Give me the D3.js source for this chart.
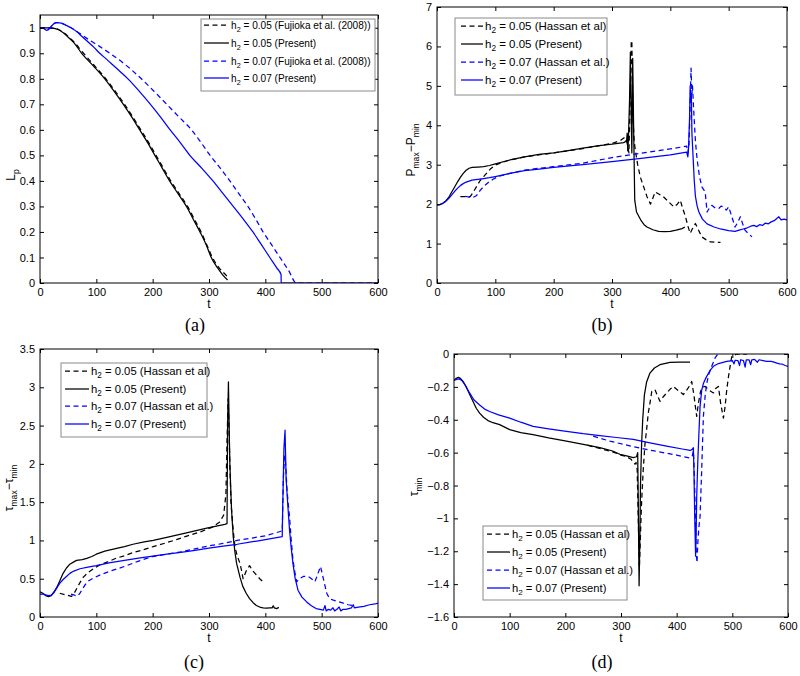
<!DOCTYPE html>
<html><head><meta charset="utf-8">
<script src="https://cdn.jsdelivr.net/npm/d3@7"></script>
<style>body{margin:0;background:#fff}svg{display:block}</style>
</head><body><svg id="chart" width="800" height="676"></svg>
<script>
// ---------- tick labels ----------
const tTicks = [0, 100, 200, 300, 400, 500, 600];
const aTicks = [0, 0.1, 0.2, 0.3, 0.4, 0.5, 0.6, 0.7, 0.8, 0.9, 1];
const bTicks = [0, 1, 2, 3, 4, 5, 6, 7];
const cTicks = [0, 0.5, 1, 1.5, 2, 2.5, 3, 3.5];
const dTicks = [0, -0.2, -0.4, -0.6, -0.8, -1, -1.2, -1.4, -1.6];

// ---------- legend labels (after "h" + subscript "2") ----------
const legendA = [" = 0.05 (Fujioka et al. (2008))", " = 0.05 (Present)", " = 0.07 (Fujioka et al. (2008))", " = 0.07 (Present)"];
const legendH = [" = 0.05 (Hassan et al)", " = 0.05 (Present)", " = 0.07 (Hassan et al.)", " = 0.07 (Present)"];

// ---------- (a) L_p ----------
const aBlackRef = [[0,1],[15,1],[25,0.998],[32,0.994],[40,0.984],[50,0.966],[60,0.945],[75,0.906],[96,0.853],[117,0.8],[134,0.75],[150,0.7],[165,0.65],[179,0.6],[193,0.55],[206,0.5],[219,0.45],[232,0.4],[247,0.35],[262,0.3],[274,0.25],[286,0.2],[296,0.15],[306,0.1],[317,0.062],[327,0.038],[334,0.022]];
const aBlackPresent = [[0,1],[15,1],[25,0.998],[32,0.993],[40,0.982],[50,0.963],[60,0.942],[74,0.9],[95,0.85],[115,0.8],[132,0.75],[148,0.7],[163,0.65],[177,0.6],[191,0.55],[204,0.5],[217,0.45],[230,0.4],[245,0.35],[260,0.3],[272,0.25],[284,0.2],[295,0.15],[304,0.1],[315,0.06],[325,0.03],[333,0.012]];
const aBlueRef = [[0,1],[6,0.998],[12,0.99],[18,1.0],[24,1.015],[30,1.02],[38,1.018],[46,1.01],[55,1.0],[65,0.986],[75,0.971],[89,0.95],[105,0.928],[124,0.9],[150,0.858],[165,0.83],[180,0.8],[203,0.75],[225,0.7],[247,0.65],[269,0.6],[286,0.55],[302,0.5],[320,0.45],[337,0.4],[353,0.35],[369,0.3],[383,0.25],[396,0.2],[411,0.15],[426,0.1],[441,0.05],[455,0],[600,0]];
const aBluePresent = [[0,1],[6,0.998],[12,0.99],[18,1.0],[24,1.015],[30,1.02],[38,1.018],[46,1.01],[55,1.0],[65,0.985],[75,0.965],[85,0.945],[95,0.925],[106,0.9],[118,0.877],[130,0.853],[143,0.827],[157,0.798],[176,0.752],[195,0.703],[213,0.653],[231,0.6],[249,0.55],[266,0.5],[287,0.45],[307,0.4],[325,0.35],[343,0.3],[361,0.25],[378,0.2],[393,0.15],[408,0.1],[420,0.06],[428,0.032],[428.05,0],[600,0]];

// ---------- (b) P_max - P_min ----------
const bBlackRef = [[40,2.19],[57,2.19],[62,2.3],[68,2.45],[74,2.6],[80,2.7],[86,2.8],[92,2.9],[100,2.99],[120,3.1],[150,3.2],[200,3.3],[250,3.41],[300,3.54],[315,3.62],[322,3.7],[326,3.55],[329,3.3],[331,4.5],[333,6.1],[334,6.15],[335,5.2],[336,4.2],[338,3.6],[340,3.37],[344,3.0],[348.5,2.69],[354,2.45],[360,2.19],[366,2.0],[370,2.15],[374,2.31],[381,2.25],[388,2.19],[397,2.06],[406,1.93],[412,2.0],[417,2.1],[421,1.9],[426,1.68],[430,1.45],[434,1.26],[438,1.38],[443,1.51],[448,1.35],[454,1.17],[461,1.1],[469,1.04],[486,1.03]];
const bBlackPresent = [[0,1.98],[5,1.99],[10,2.02],[15,2.08],[20,2.17],[25,2.3],[30,2.43],[35,2.56],[40,2.68],[45,2.78],[50,2.86],[55,2.91],[60,2.93],[70,2.94],[80,2.95],[90,2.98],[100,3.02],[125,3.12],[150,3.2],[175,3.26],[200,3.3],[225,3.36],[250,3.42],[275,3.48],[300,3.52],[320,3.56],[325,3.6],[326,3.8],[327,3.35],[328,3.6],[330,4.6],[331.5,5.85],[333,4.2],[334,3.3],[335.5,5.7],[337,4.0],[339,2.1],[342,1.8],[345,1.72],[350,1.58],[355,1.48],[360,1.42],[370,1.35],[380,1.31],[390,1.3],[400,1.31],[410,1.34],[420,1.38],[425,1.42]];
const bBlueRef = [[48,2.2],[55,2.18],[62,2.17],[68,2.22],[74,2.35],[80,2.45],[88,2.55],[96,2.63],[105,2.7],[125,2.78],[150,2.86],[175,2.91],[200,2.95],[250,3.04],[300,3.18],[350,3.29],[400,3.4],[428,3.47],[430,3.3],[432,3.5],[434,4.5],[435.5,5.45],[437,4.8],[438,5.0],[440,4.39],[443,3.6],[446,3.12],[450,2.7],[454,2.44],[458,2.35],[460,2.27],[463,1.8],[467,1.9],[471,1.97],[477,1.9],[483,1.89],[487,1.95],[491,1.93],[496,1.85],[500,1.93],[505,1.7],[511,1.42],[516,1.55],[520,1.68],[524,1.5],[528,1.34],[534,1.25],[540,1.17]];
const bBluePresent = [[0,1.98],[5,1.99],[10,2.02],[15,2.07],[20,2.14],[25,2.23],[30,2.32],[35,2.4],[40,2.47],[45,2.52],[50,2.56],[60,2.61],[70,2.63],[80,2.65],[90,2.67],[100,2.7],[125,2.78],[150,2.85],[175,2.89],[200,2.93],[250,3.0],[300,3.08],[350,3.16],[400,3.25],[428,3.32],[430,3.2],[431,3.35],[433,4.2],[434,5.0],[435,4.6],[436,4.8],[437,3.8],[439,3.2],[441,2.6],[443,2.2],[446,1.95],[449,1.8],[455,1.62],[463,1.5],[475,1.42],[486,1.37],[500,1.33],[511,1.31],[518,1.34],[525,1.37],[532,1.4],[538,1.44],[543,1.46],[548,1.43],[553,1.48],[558,1.46],[563,1.52],[568,1.5],[573,1.55],[578,1.58],[582,1.63],[586,1.68],[590,1.6],[595,1.62],[600,1.6]];

// ---------- (c) tau_max - tau_min ----------
const cBlackRef = [[35,0.31],[45,0.29],[56,0.27],[60,0.3],[65,0.37],[71,0.45],[77,0.52],[85,0.58],[95,0.63],[106,0.68],[120,0.72],[136,0.77],[150,0.8],[165,0.84],[180,0.87],[201,0.92],[220,0.96],[242,1.01],[262,1.06],[284,1.11],[305,1.17],[319,1.24],[326,1.33],[330,1.6],[332,2.3],[334,2.85],[335,2.6],[337,2.0],[339,1.5],[343,1.13],[346,0.92],[350,0.8],[355,0.7],[358,0.6],[360.5,0.5],[366,0.6],[372,0.67],[378,0.6],[384,0.55],[390,0.5],[396,0.46]];
const cBlackPresent = [[0,0.33],[5,0.31],[10,0.28],[15,0.265],[20,0.28],[25,0.33],[30,0.39],[35,0.47],[41,0.57],[47,0.64],[53,0.69],[60,0.72],[65,0.74],[75,0.75],[83,0.765],[92,0.79],[100,0.82],[115,0.86],[136,0.895],[150,0.92],[165,0.95],[185,0.98],[201,1.0],[225,1.04],[260,1.1],[296,1.16],[328,1.21],[332,1.22],[333,2.5],[334.5,3.07],[336,2.4],[337,2.0],[340,1.4],[343,1.05],[346,0.85],[349,0.7],[355,0.52],[360,0.4],[366,0.31],[372,0.24],[378,0.19],[384,0.15],[390,0.13],[396,0.12],[402,0.115],[408,0.12],[412,0.12],[414,0.145],[416,0.12],[420,0.11],[424,0.125]];
const cBlueRef = [[55,0.3],[60,0.29],[65,0.27],[70,0.3],[75,0.36],[80,0.42],[86,0.47],[95,0.51],[110,0.56],[125,0.6],[150,0.66],[175,0.73],[200,0.79],[225,0.82],[250,0.85],[275,0.89],[300,0.93],[325,0.96],[350,1.0],[375,1.03],[400,1.06],[428,1.12],[430,1.12],[432,1.8],[434,2.1],[436,2.0],[438.5,1.66],[441,1.45],[443,1.31],[446,1.0],[449,0.75],[452,0.6],[455.7,0.46],[461,0.5],[467.5,0.53],[476,0.53],[482,0.5],[488,0.46],[493,0.56],[498,0.66],[503,0.5],[509,0.31],[514,0.24],[520.7,0.22],[530,0.2],[538.5,0.18],[547,0.16],[555,0.15]];
const cBluePresent = [[0,0.3],[5,0.3],[10,0.29],[15,0.28],[20,0.285],[25,0.32],[30,0.38],[35,0.44],[41,0.49],[47,0.53],[53,0.57],[60,0.6],[71,0.63],[85,0.65],[100,0.67],[125,0.71],[150,0.74],[175,0.77],[200,0.795],[225,0.82],[250,0.845],[275,0.87],[300,0.9],[325,0.925],[350,0.95],[375,0.98],[400,1.01],[430,1.05],[431,1.5],[433,2.2],[435,2.44],[436,2.1],[437,1.79],[440,1.45],[443,1.13],[446,0.9],[449,0.7],[453,0.5],[458,0.35],[465,0.26],[473,0.2],[481,0.15],[490,0.11],[497,0.1],[503,0.09],[506,0.15],[508,0.08],[512,0.1],[516,0.09],[520,0.12],[523,0.08],[527,0.1],[531,0.13],[534,0.08],[538,0.1],[543,0.1],[548,0.11],[553,0.12],[556,0.16],[558,0.12],[565,0.13],[575,0.14],[585,0.16],[595,0.17],[600,0.18]];

// ---------- (d) tau_min ----------
const dBlackRef = [[240,-0.555],[262,-0.575],[285,-0.595],[300,-0.615],[310,-0.625],[318,-0.64],[322,-0.66],[325,-0.67],[327,-0.66],[329,-0.7],[331,-1.0],[333,-1.3],[335,-1.1],[337,-0.9],[340,-0.7],[343,-0.55],[346,-0.46],[349,-0.36],[352,-0.3],[355.3,-0.227],[361,-0.217],[365,-0.25],[370,-0.288],[376,-0.26],[382,-0.237],[388,-0.215],[394,-0.197],[400,-0.215],[406,-0.23],[412,-0.247],[418,-0.22],[424,-0.19],[427,-0.167],[431,-0.25],[434,-0.33],[436,-0.38],[439,-0.3],[443,-0.227],[447,-0.2],[451,-0.197],[458,-0.22],[466,-0.237],[470,-0.21],[475,-0.197],[479,-0.3],[484,-0.39],[487,-0.32],[490,-0.217],[493,-0.14],[496,-0.075],[499,-0.015],[508,0],[526,0]];
const dBlackPresent = [[0,-0.16],[4,-0.148],[8,-0.142],[12,-0.15],[17,-0.17],[22,-0.2],[28,-0.245],[34,-0.288],[40,-0.33],[46,-0.36],[53,-0.385],[61,-0.405],[70,-0.418],[82,-0.43],[100,-0.46],[120,-0.478],[142,-0.49],[170,-0.51],[202,-0.53],[230,-0.548],[262,-0.57],[285,-0.59],[298,-0.61],[310,-0.62],[322,-0.63],[328,-0.625],[330,-0.6],[331,-0.9],[332.5,-1.41],[334,-1.1],[335,-0.8],[337,-0.55],[339,-0.4],[342,-0.25],[346,-0.17],[352,-0.116],[360,-0.085],[370,-0.065],[388,-0.051],[405,-0.05],[424,-0.05]];
const dBlueRef = [[250,-0.5],[280,-0.53],[322,-0.564],[360,-0.59],[400,-0.615],[424,-0.633],[428,-0.62],[430,-0.59],[431,-0.66],[433,-0.9],[435,-1.2],[436.5,-1.27],[438,-1.15],[440,-1.05],[442,-0.99],[445,-0.7],[448,-0.38],[451,-0.26],[454,-0.18],[458,-0.12],[463,-0.075],[469,-0.024],[475,0.005],[485,0.01],[500,0.01]];
const dBluePresent = [[0,-0.16],[5,-0.155],[10,-0.152],[15,-0.165],[20,-0.19],[28,-0.237],[36,-0.28],[46,-0.31],[55,-0.335],[64,-0.35],[80,-0.37],[100,-0.39],[120,-0.415],[142,-0.44],[170,-0.455],[202,-0.47],[232,-0.485],[262,-0.497],[292,-0.508],[322,-0.52],[352,-0.54],[382,-0.56],[410,-0.578],[424,-0.587],[428,-0.58],[430,-0.57],[431,-0.7],[432.5,-1.0],[434,-1.23],[435,-1.1],[436,-0.87],[438,-0.65],[440,-0.48],[442,-0.32],[445,-0.22],[448,-0.18],[451,-0.156],[454,-0.136],[460,-0.1],[466,-0.075],[475,-0.058],[490,-0.045],[500,-0.04],[503,-0.06],[505,-0.038],[510,-0.04],[513,-0.07],[515,-0.035],[520,-0.04],[523,-0.08],[525,-0.036],[530,-0.035],[533,-0.065],[535,-0.035],[540,-0.033],[545,-0.05],[548,-0.035],[555,-0.04],[562,-0.045],[570,-0.045],[575,-0.05],[580,-0.055],[585,-0.06],[590,-0.062],[595,-0.07],[600,-0.075]];

// ---------- drawing ----------
const FONT = '"Liberation Sans", Arial, Helvetica, sans-serif';
const BLUE = "#0000ff", BLACK = "#000000";
const DASH = "5,3.5";
const svg = d3.select("#chart");
const defs = svg.append("defs");

function richText(parent, x, y, parts, size, anchor, rotate) {
  const t = parent.append("text")
    .attr("font-family", FONT).attr("font-size", size).attr("fill", "#000")
    .attr("text-anchor", anchor || "start");
  if (rotate) t.attr("transform", `translate(${x},${y}) rotate(-90)`);
  else t.attr("x", x).attr("y", y);
  let shifted = 0;
  parts.forEach(([s, sub]) => {
    const ts = t.append("tspan").text(s);
    if (sub) { ts.attr("font-size", size * 0.72).attr("dy", size * 0.3 - shifted); shifted = size * 0.3; }
    else { ts.attr("dy", -shifted); shifted = 0; }
  });
  return t;
}

function drawPanel(p) {
  const g = svg.append("g");
  const x = d3.scaleLinear().domain([0, 600]).range([p.left, p.right]);
  const y = d3.scaleLinear().domain(p.yDomain).range([p.bottom, p.top]);
  const id = "clip-" + p.name;
  defs.append("clipPath").attr("id", id).append("rect")
    .attr("x", p.left).attr("y", p.top).attr("width", p.right - p.left).attr("height", p.bottom - p.top);

  const line = d3.line().x(d => x(d[0])).y(d => y(d[1])).curve(p.smooth ? d3.curveMonotoneX : d3.curveLinear);
  const sg = g.append("g").attr("clip-path", `url(#${id})`);
  p.series.forEach(s => {
    sg.append("path").attr("d", line(s.data)).attr("fill", "none")
      .attr("stroke", s.color).attr("stroke-width", 1.25)
      .attr("stroke-dasharray", s.dash ? DASH : null)
      .attr("stroke-linejoin", "round");
  });

  const styleAxis = a => {
    a.attr("font-family", FONT).attr("font-size", 11);
    a.select(".domain").remove();
    a.selectAll(".tick line").attr("stroke", "#000");
    a.selectAll(".tick text").attr("fill", "#000");
  };
  g.append("g").attr("transform", `translate(0,${p.bottom})`)
    .call(d3.axisBottom(x).tickValues(tTicks).tickSizeInner(-4).tickSizeOuter(0).tickPadding(5).tickFormat(d3.format("d")))
    .call(styleAxis);
  g.append("g").attr("transform", `translate(0,${p.top})`)
    .call(d3.axisTop(x).tickValues(tTicks).tickSizeInner(-4).tickSizeOuter(0).tickFormat(""))
    .call(styleAxis);
  g.append("g").attr("transform", `translate(${p.left},0)`)
    .call(d3.axisLeft(y).tickValues(p.yTicks).tickSizeInner(-4).tickSizeOuter(0).tickPadding(5).tickFormat(d3.format("~g")))
    .call(styleAxis);
  g.append("g").attr("transform", `translate(${p.right},0)`)
    .call(d3.axisRight(y).tickValues(p.yTicks).tickSizeInner(-4).tickSizeOuter(0).tickFormat(""))
    .call(styleAxis);
  g.append("rect").attr("x", p.left).attr("y", p.top)
    .attr("width", p.right - p.left).attr("height", p.bottom - p.top)
    .attr("fill", "none").attr("stroke", "#000").attr("stroke-width", 1);

  // x label, y label, caption
  richText(g, (p.left + p.right) / 2, p.bottom + 25, [["t", false]], 12, "middle");
  richText(g, p.ylab.x, p.ylab.y, p.ylab.parts, 12, "middle", true);
  g.append("text").attr("x", p.cap.x).attr("y", p.cap.y).attr("text-anchor", "middle")
    .attr("font-family", '"Liberation Serif", "Times New Roman", serif').attr("font-size", 18)
    .text(p.cap.text);

  // legend
  const L = p.legend;
  g.append("rect").attr("x", L.x0).attr("y", L.y0).attr("width", L.x1 - L.x0).attr("height", L.y1 - L.y0)
    .attr("fill", "#fff").attr("stroke", "#8a8a8a").attr("stroke-width", 1);
  p.series.forEach((s, i) => {
    const ry = L.rows[i];
    g.append("line").attr("x1", L.s0).attr("x2", L.s1).attr("y1", ry).attr("y2", ry)
      .attr("stroke", s.color).attr("stroke-width", 1.25).attr("stroke-dasharray", s.dash ? DASH : null);
    richText(g, L.tx, ry + 4, [["h", false], ["2", true], [L.labels[i], false]], L.fs, "start");
  });
}

drawPanel({
  name: "a", left: 40, right: 378, top: 15, bottom: 283, yDomain: [0, 1.05], yTicks: aTicks, smooth: true,
  series: [
    { data: aBlackRef, color: BLACK, dash: true },
    { data: aBlackPresent, color: BLACK, dash: false },
    { data: aBlueRef, color: BLUE, dash: true },
    { data: aBluePresent, color: BLUE, dash: false }
  ],
  ylab: { x: 15, y: 175, parts: [["L", false], ["p", true]] },
  cap: { x: 195, y: 331, text: "(a)" },
  legend: { x0: 201, y0: 19, x1: 375, y1: 91, rows: [25, 43, 61, 78], s0: 204, s1: 229, tx: 231, fs: 10.1, labels: legendA }
});
drawPanel({
  name: "b", left: 437, right: 787, top: 7, bottom: 283, yDomain: [0, 7], yTicks: bTicks,
  series: [
    { data: bBlackRef, color: BLACK, dash: true },
    { data: bBlackPresent, color: BLACK, dash: false },
    { data: bBlueRef, color: BLUE, dash: true },
    { data: bBluePresent, color: BLUE, dash: false }
  ],
  ylab: { x: 415, y: 150, parts: [["P", false], ["max", true], ["−P", false], ["min", true]] },
  cap: { x: 602, y: 331, text: "(b)" },
  legend: { x0: 455, y0: 18, x1: 607, y1: 95, rows: [26, 44, 62, 80], s0: 461, s1: 483, tx: 485, fs: 11.5, labels: legendH }
});
drawPanel({
  name: "c", left: 40, right: 378, top: 349, bottom: 617, yDomain: [0, 3.5], yTicks: cTicks,
  series: [
    { data: cBlackRef, color: BLACK, dash: true },
    { data: cBlackPresent, color: BLACK, dash: false },
    { data: cBlueRef, color: BLUE, dash: true },
    { data: cBluePresent, color: BLUE, dash: false }
  ],
  ylab: { x: 13, y: 488, parts: [["τ", false], ["max", true], ["−τ", false], ["min", true]] },
  cap: { x: 194, y: 668, text: "(c)" },
  legend: { x0: 61, y0: 363, x1: 207, y1: 437, rows: [371, 389, 406, 424], s0: 65, s1: 89, tx: 91, fs: 11.3, labels: legendH }
});
drawPanel({
  name: "d", left: 454, right: 788, top: 354, bottom: 617, yDomain: [-1.6, 0], yTicks: dTicks,
  series: [
    { data: dBlackRef, color: BLACK, dash: true },
    { data: dBlackPresent, color: BLACK, dash: false },
    { data: dBlueRef, color: BLUE, dash: true },
    { data: dBluePresent, color: BLUE, dash: false }
  ],
  ylab: { x: 418, y: 487, parts: [["τ", false], ["min", true]] },
  cap: { x: 602, y: 668, text: "(d)" },
  legend: { x0: 483, y0: 526, x1: 627, y1: 600, rows: [534, 552, 570, 588], s0: 487, s1: 510, tx: 512, fs: 11.2, labels: legendH }
});
</script>
</body></html>
